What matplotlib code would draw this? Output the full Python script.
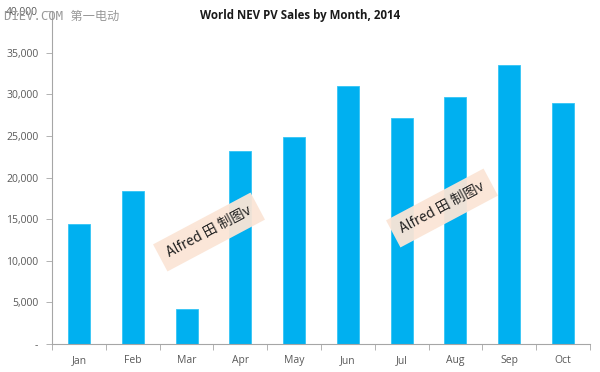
import matplotlib
matplotlib.use("Agg")
import matplotlib.pyplot as plt
from matplotlib.ticker import FuncFormatter, MultipleLocator

# Monthly sales
months = ["Jan", "Feb", "Mar", "Apr", "May", "Jun", "Jul", "Aug", "Sep", "Oct"]
sales = [14450, 18450, 4250, 23150, 24900, 31050, 27200, 29700, 33550, 28950]

title = "World NEV PV Sales by Month, 2014"
stamp = "Alfred 田 制图v"
watermark = "DIEV.COM 第一电动"

BLUE = "#00B0F0"
GREY = "#595959"

fig = plt.figure(figsize=(6, 3.72), dpi=100)
ax = fig.add_axes([0.087, 0.075, 0.896, 0.895])

x = list(range(len(months)))
ax.bar(x, sales, width=0.41, color=BLUE, edgecolor="#33C4F5", linewidth=0.6, zorder=2)

ax.set_xlim(-0.5, len(months) - 0.5)
ax.set_ylim(0, 40000)
ax.yaxis.set_major_locator(MultipleLocator(5000))
ax.yaxis.set_major_formatter(FuncFormatter(lambda v, p: "-" if v == 0 else f"{int(v):,}"))

ax.set_xticks(x)
ax.set_xticklabels(months)
ax.set_xticks([i + 0.5 for i in x[:-1]] + [-0.5, len(months) - 0.5], minor=True)
ax.tick_params(axis="x", which="major", length=0, pad=8, labelsize=7.5, labelcolor=GREY)
ax.tick_params(axis="x", which="minor", length=4, width=0.6, color="#A6A6A6", direction="out")
ax.tick_params(axis="y", length=4, width=0.6, color="#A6A6A6", direction="out",
               labelsize=7.5, labelcolor=GREY, pad=6)

for s in ["top", "right"]:
    ax.spines[s].set_visible(False)
for s in ["left", "bottom"]:
    ax.spines[s].set_color("#A6A6A6")
    ax.spines[s].set_linewidth(0.8)

for lab in ax.get_xticklabels() + ax.get_yticklabels():
    lab.set_family(["Open Sans", "DejaVu Sans"])

fig.text(0.5, 0.957, title, ha="center", va="center", fontsize=8.3,
         fontweight="bold", family=["Open Sans", "DejaVu Sans"], color="#1a1a1a")

# site watermark, sits over the top y label as in the source image
fig.text(0.007, 0.955, watermark, ha="left", va="center", fontsize=8.8,
         family=["DejaVu Sans Mono", "Noto Sans CJK SC"], color="#999999")

box = dict(boxstyle="square,pad=0.6", facecolor="#FBE5D6", edgecolor="none", alpha=0.95)
for (px, py) in [(209 / 600, 1 - 232 / 372), (442 / 600, 1 - 208 / 372)]:
    fig.text(px, py, stamp, ha="center", va="center", rotation=28, fontsize=10,
             family=["Noto Sans CJK SC", "DejaVu Sans"], color="#222222",
             bbox=box, zorder=5)

fig.savefig("out.png", dpi=100)
